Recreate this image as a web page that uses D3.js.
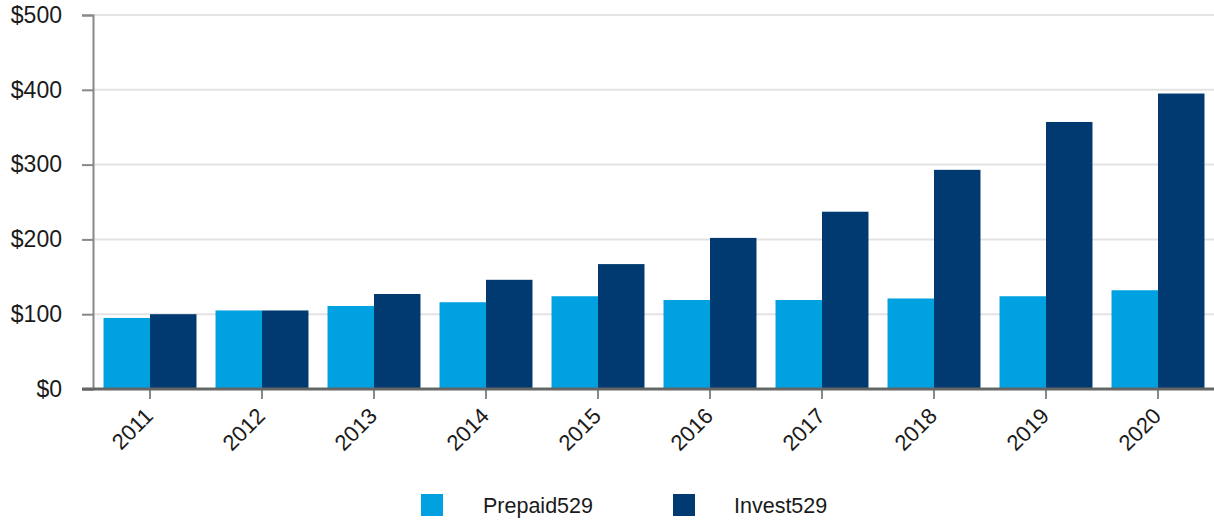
<!DOCTYPE html>
<html>
<head>
<meta charset="utf-8">
<script src="https://cdn.jsdelivr.net/npm/d3@7"></script>
<style>
  body { margin: 0; background: #fff; }
  svg text { font-family: "Liberation Sans", Arial, sans-serif; fill: #1a1a1a; }
</style>
</head>
<body>
<div id="chart"></div>
<script>
// Data (millions of dollars)
const years = ["2011", "2012", "2013", "2014", "2015", "2016", "2017", "2018", "2019", "2020"];
const prepaid529 = [95, 105, 111, 116, 124, 119, 119, 121, 124, 132];
const invest529 = [100, 105, 127, 146, 167, 202, 237, 293, 357, 395];
const seriesNames = ["Prepaid529", "Invest529"];
const seriesColors = ["#00a1e0", "#003a70"];
const yTicks = [0, 100, 200, 300, 400, 500];

const width = 1214, height = 523;
const margin = { top: 15, right: 0, left: 94, bottom: 134 };

const svg = d3.select("#chart").append("svg")
    .attr("width", width)
    .attr("height", height);

// Scales
const x = d3.scaleBand()
    .domain(years)
    .range([margin.left, width - margin.right])
    .paddingInner(0.17)
    .paddingOuter(0.085);

const sub = d3.scaleBand()
    .domain(seriesNames)
    .range([0, x.bandwidth()]);

const y = d3.scaleLinear()
    .domain([0, 500])
    .range([height - margin.bottom, margin.top]);

// Gridlines
svg.append("g")
    .selectAll("line")
    .data(yTicks.slice(1))
    .join("line")
    .attr("x1", 93)
    .attr("x2", width)
    .attr("y1", d => y(d))
    .attr("y2", d => y(d))
    .attr("stroke", "#e3e3e3")
    .attr("stroke-width", 2);

// Bars
const rows = years.map((yr, i) => ({ year: yr, values: [prepaid529[i], invest529[i]] }));

svg.append("g")
    .selectAll("g")
    .data(rows)
    .join("g")
    .attr("transform", d => `translate(${x(d.year)},0)`)
    .selectAll("rect")
    .data(d => d.values.map((v, j) => ({ name: seriesNames[j], value: v, color: seriesColors[j] })))
    .join("rect")
    .attr("x", d => sub(d.name))
    .attr("width", sub.bandwidth())
    .attr("y", d => y(d.value))
    .attr("height", d => y(0) - y(d.value))
    .attr("fill", d => d.color);

// Y axis
const yAxis = svg.append("g")
    .attr("transform", "translate(93,0)")
    .call(d3.axisLeft(y).tickValues(yTicks).tickFormat(d => "$" + d).tickSize(11).tickPadding(20));
yAxis.select(".domain").attr("stroke", "#888").attr("stroke-width", 2);
yAxis.selectAll(".tick line").attr("stroke", "#888").attr("stroke-width", 2);
yAxis.selectAll(".tick text").style("font-size", "23px").attr("fill", "#1a1a1a");

// X axis
const xAxis = svg.append("g")
    .attr("transform", `translate(0,${y(0)})`)
    .call(d3.axisBottom(x).tickSizeOuter(0).tickSize(10));
xAxis.select(".domain").remove();
xAxis.append("line")
    .attr("x1", 82)
    .attr("x2", width)
    .attr("stroke", "#666")
    .attr("stroke-width", 3);
xAxis.selectAll(".tick line").attr("stroke", "#888").attr("stroke-width", 2);
xAxis.selectAll(".tick text")
    .style("font-size", "22px")
    .attr("fill", "#1a1a1a")
    .attr("text-anchor", "end")
    .attr("dy", "0.35em")
    .attr("transform", "translate(-1,23) rotate(-45)")
    .attr("y", 0)
    .attr("x", 0);

// Legend
const legendX = [421, 673];
const legend = svg.append("g")
    .selectAll("g")
    .data(seriesNames)
    .join("g")
    .attr("transform", (d, i) => `translate(${legendX[i]},494)`);
legend.append("rect")
    .attr("width", 22)
    .attr("height", 22)
    .attr("fill", (d, i) => seriesColors[i]);
legend.append("text")
    .attr("x", (d, i) => i === 0 ? 62 : 61)
    .attr("y", 11)
    .attr("dy", "0.35em")
    .style("font-size", "21.5px")
    .text(d => d);
</script>
</body>
</html>
